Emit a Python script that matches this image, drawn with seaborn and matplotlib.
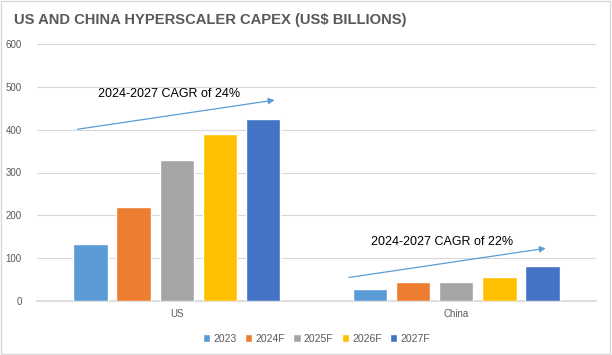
import pandas as pd
import matplotlib.pyplot as plt
import seaborn as sns
from matplotlib.patches import Rectangle

sns.set_theme(style="white")
plt.rcParams['font.family'] = ['Liberation Sans', 'DejaVu Sans']

# data
regions = ['US', 'China']
years = ['2023', '2024F', '2025F', '2026F', '2027F']
us_capex = [133, 220, 329, 390, 425]
china_capex = [28, 44, 44, 56, 82]
colors = ['#5B9BD5', '#ED7D31', '#A5A5A5', '#FFC000', '#4472C4']

df = pd.DataFrame({
    'Region': [r for r in regions for _ in years],
    'Year': years * 2,
    'Capex': us_capex + china_capex,
})

fig = plt.figure(figsize=(6.12, 3.55), dpi=100)
ax = fig.add_axes([37 / 612, 54 / 355, 559 / 612, 257 / 355])

sns.barplot(data=df, x='Region', y='Capex', hue='Year', order=regions,
            hue_order=years, palette=colors, width=0.77, gap=0.2,
            saturation=1, ax=ax, zorder=3)

ax.set_ylim(0, 600)
ax.set_xlim(-0.5, 1.5)
ax.set_yticks(range(0, 601, 100))
ax.yaxis.grid(True, color='#D9D9D9', linewidth=0.8, zorder=0)
ax.set_xlabel('')
ax.set_ylabel('')
for s in ['top', 'right', 'left']:
    ax.spines[s].set_visible(False)
ax.spines['bottom'].set_color('#D9D9D9')
ax.tick_params(axis='both', length=0, colors='#595959', labelsize=7)
ax.tick_params(axis='y', pad=11)
ax.tick_params(axis='x', pad=6)

# CAGR arrows
arrow_style = dict(arrowstyle='-|>', color='#5B9BD5', lw=0.9, mutation_scale=9)
ax.annotate('', xy=(0.36, 470), xytext=(-0.365, 400), arrowprops=arrow_style)
ax.annotate('', xy=(1.33, 124), xytext=(0.606, 54), arrowprops=arrow_style)
ax.text(-0.283, 484, '2024-2027 CAGR of 24%', fontsize=9, color='black', va='center')
ax.text(0.696, 138, '2024-2027 CAGR of 22%', fontsize=9, color='black', va='center')

leg = ax.legend(loc='upper center', bbox_to_anchor=(0.5, -0.09), ncol=5,
                frameon=False, fontsize=7.5, handlelength=0.7, handleheight=0.7,
                handletextpad=0.3, columnspacing=0.8, labelcolor='#595959')

fig.text(14 / 612, 1 - 20 / 355, 'US AND CHINA HYPERSCALER CAPEX (US$ BILLIONS)',
         fontsize=10.6, fontweight='bold', color='#595959', va='center')

fig.patches.append(Rectangle((0.002, 0.003), 0.995, 0.994, transform=fig.transFigure,
                             fill=False, edgecolor='#D9D9D9', linewidth=1))

fig.savefig('out.png', dpi=100)
